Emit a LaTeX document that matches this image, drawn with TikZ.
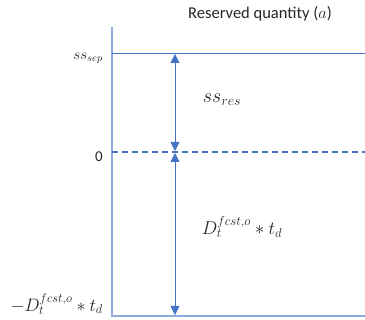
\documentclass[tikz,border=0pt]{standalone}
\usepackage{fix-cm}
\usepackage{fontspec}
\setmainfont{Carlito}
\usepackage{tikz}
\usetikzlibrary{arrows.meta,positioning}
\definecolor{axisblue}{HTML}{8FAADC}
\definecolor{lineblue}{HTML}{4472C4}
\definecolor{txt}{HTML}{262626}

\begin{document}
\begin{tikzpicture}[
  x=1pt, y=-1pt,
  axis/.style={axisblue, line width=1.2pt},
  level/.style={lineblue, line width=0.8pt},
  arr/.style={{Triangle[width=9pt,length=9pt]}-{Triangle[width=9pt,length=9pt]}, lineblue, line width=0.8pt},
  lbl/.style={text=txt, inner sep=0pt}
]
\useasboundingbox (0,0) rectangle (365,320);
% axes
\coordinate (top) at (112,27);
\coordinate (origin) at (112,316);
\coordinate (right) at (365,316);
\draw[axis] (top) -- (origin) -- (right);
% levels
\coordinate (sepL) at (112,53);
\coordinate (sepR) at (365,53);
\coordinate (zeroL) at (112,152);
\coordinate (zeroR) at (365,152);
\draw[level] (sepL) -- (sepR);
\draw[level, line width=1.2pt, dash pattern=on 6pt off 4pt] (zeroL) -- (zeroR);
% arrows
\coordinate (a1) at (175,54);
\coordinate (a2) at (175,151);
\coordinate (a3) at (175,153);
\coordinate (a4) at (175,315);
\draw[arr] (a1) -- (a2);
\draw[arr] (a3) -- (a4);
% labels
\node[lbl, font=\fontsize{16.5}{18}\selectfont] (title) at (260,14) {Reserved quantity ($a$)};
\node[lbl, font=\fontsize{15}{17}\selectfont, left=9pt of sepL, yshift=-5pt] (sep) {$ss_{sep}$};
\node[lbl, font=\fontsize{15}{17}\selectfont, left=9pt of zeroL, yshift=-5pt] (zero) {0};
\node[lbl, font=\fontsize{18}{20}\selectfont, left=9pt of origin, yshift=12pt] (neg) {$-D_t^{fcst,o}*t_d$};
\node[lbl, font=\fontsize{20}{22}\selectfont] (res) at (222,100) {$ss_{res}$};
\node[lbl, font=\fontsize{18.5}{20}\selectfont] (dem) at (242,227) {$D_t^{fcst,o}*t_d$};
\end{tikzpicture}
\end{document}
